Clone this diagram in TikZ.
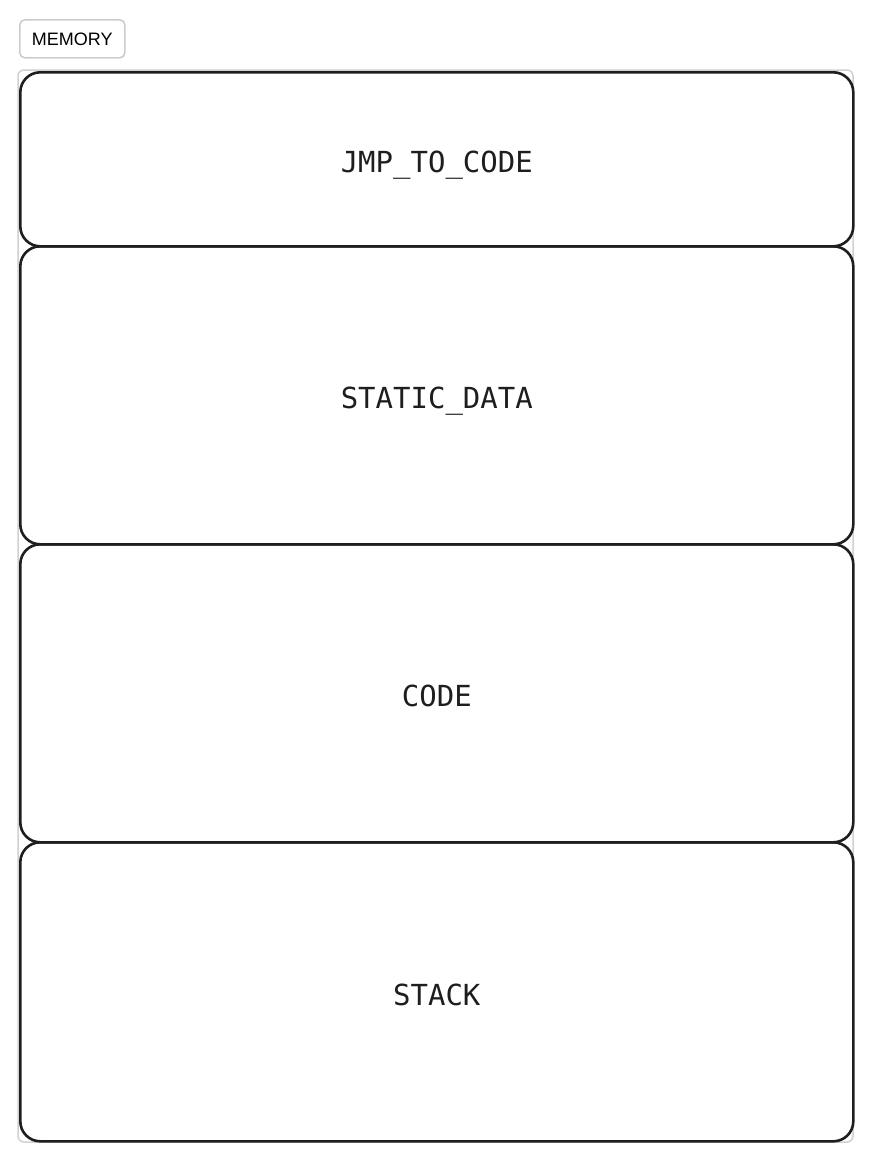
\documentclass[tikz,border=0pt]{standalone}
\usepackage{fontspec}
\setmainfont{Liberation Sans}
\setmonofont{DejaVu Sans Mono}
\definecolor{ink}{HTML}{1E1E1E}

\begin{document}
\begin{tikzpicture}[x=1pt,y=-1pt,
		seg/.style={draw=ink,text=ink,line width=2.6pt,rounded corners=20pt,anchor=north west,
			minimum width=833pt,inner sep=0pt,text height=27pt,text depth=0pt,
			font=\ttfamily\fontsize{29}{29}\selectfont},
		tag/.style={draw=black!20,text=black,line width=1.6pt,rounded corners=5pt,anchor=north west,
			minimum width=105pt,minimum height=38pt,inner sep=0pt,font=\fontsize{18}{18}\selectfont}]
		\useasboundingbox (0,0) rectangle (872,1160);
		% frame of the memory group
		\draw[black!18,line width=1.5pt,rounded corners=6pt] (18,70) rectangle (853,1142);
		\node[tag] (memory) at (19,19) {MEMORY};
		% segments, top to bottom
		\node[seg,minimum height=174pt] (jmp) at (19,71) {JMP\_TO\_CODE};
		\node[seg,minimum height=298pt] (static) at (19,245) {STATIC\_DATA};
		\node[seg,minimum height=298pt] (code) at (19,543) {CODE};
		\node[seg,minimum height=299pt] (stack) at (19,841) {STACK};
		\end{tikzpicture}
\end{document}
